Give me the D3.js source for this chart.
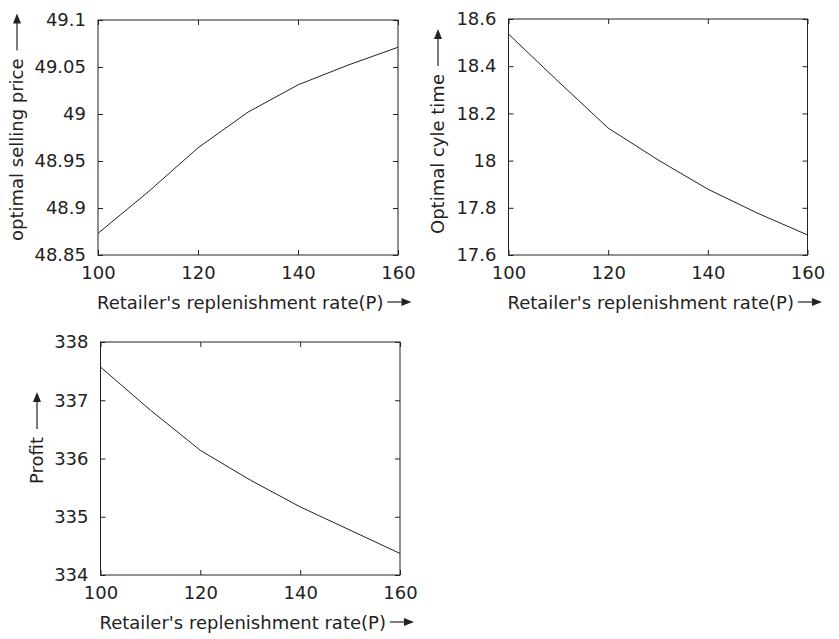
<!DOCTYPE html>
<html>
<head>
<meta charset="utf-8">
<script src="https://cdn.jsdelivr.net/npm/d3@7"></script>
<style>
  html, body { margin: 0; padding: 0; background: #fff; }
  svg { display: block; }
  text { font-family: "DejaVu Sans", Verdana, sans-serif; font-size: 18px; fill: #222; }
</style>
</head>
<body>
<svg id="chart" width="839" height="639"></svg>
<script>
// ---- data ----
const rates = [100, 110, 120, 130, 140, 150, 160];
const sellingPrice = [48.873, 48.917, 48.964, 49.002, 49.031, 49.052, 49.071];
const cycleTime = [18.536, 18.335, 18.138, 18.003, 17.879, 17.777, 17.685];
const profit = [337.57, 336.83, 336.14, 335.63, 335.17, 334.77, 334.37];

const xTicks = [100, 120, 140, 160];
const priceTicks = [48.85, 48.9, 48.95, 49, 49.05, 49.1];
const cycleTicks = [17.6, 17.8, 18, 18.2, 18.4, 18.6];
const profitTicks = [334, 335, 336, 337, 338];

const xLabel = "Retailer's replenishment rate(P)";
const priceLabel = "optimal selling price";
const cycleLabel = "Optimal cyle time";
const profitLabel = "Profit";

// ---- layout ----
const panels = [
  { box: {l: 98, r: 398, t: 20, b: 255}, values: sellingPrice, yDomain: [48.85, 49.1], yTicks: priceTicks,
    yLabel: priceLabel, yLabelX: 23, labelStart: 241, tickFmt: d => String(+d.toFixed(2)) },
  { box: {l: 508.5, r: 807.5, t: 19, b: 255}, values: cycleTime, yDomain: [17.6, 18.6], yTicks: cycleTicks,
    yLabel: cycleLabel, yLabelX: 444, labelStart: 234, tickFmt: d => String(+d.toFixed(1)) },
  { box: {l: 100.5, r: 400, t: 342, b: 575}, values: profit, yDomain: [334, 338], yTicks: profitTicks,
    yLabel: profitLabel, yLabelX: 43, labelStart: 484, tickFmt: d => String(d) }
];

const svg = d3.select("#chart");
const ink = "#222";

function upArrow(g, x, tail) {
  const lineLen = 27, head = 10, hw = 4;
  const tip = tail - lineLen - head;
  g.append("line").attr("x1", x).attr("x2", x).attr("y1", tail).attr("y2", tip + head - 1)
    .attr("stroke", ink).attr("stroke-width", 1.2);
  g.append("path").attr("d", `M${x},${tip} L${x - hw},${tip + head} L${x + hw},${tip + head} Z`).attr("fill", ink);
}
function rightArrow(g, xStart, y) {
  const lineLen = 14, head = 10, hw = 4;
  g.append("line").attr("x1", xStart).attr("x2", xStart + lineLen).attr("y1", y).attr("y2", y)
    .attr("stroke", ink).attr("stroke-width", 1.2);
  const tip = xStart + lineLen + head;
  g.append("path").attr("d", `M${tip},${y} L${tip - head},${y - hw} L${tip - head},${y + hw} Z`).attr("fill", ink);
}

panels.forEach(p => {
  const {l, r, t, b} = p.box;
  const x = d3.scaleLinear().domain([100, 160]).range([l, r]);
  const y = d3.scaleLinear().domain(p.yDomain).range([b, t]);
  const g = svg.append("g");

  g.append("rect").attr("x", l).attr("y", t).attr("width", r - l).attr("height", b - t)
    .attr("fill", "none").attr("stroke", ink).attr("stroke-width", 1);

  const axB = g.append("g").attr("transform", `translate(0,${b})`)
    .call(d3.axisBottom(x).tickValues(xTicks).tickSizeInner(-5).tickSizeOuter(0).tickPadding(12));
  const axT = g.append("g").attr("transform", `translate(0,${t})`)
    .call(d3.axisTop(x).tickValues(xTicks).tickSizeInner(-5).tickSizeOuter(0).tickFormat(""));
  const axL = g.append("g").attr("transform", `translate(${l},0)`)
    .call(d3.axisLeft(y).tickValues(p.yTicks).tickSizeInner(-5).tickSizeOuter(0).tickPadding(12).tickFormat(p.tickFmt));
  const axR = g.append("g").attr("transform", `translate(${r},0)`)
    .call(d3.axisRight(y).tickValues(p.yTicks).tickSizeInner(-5).tickSizeOuter(0).tickFormat(""));
  [axB, axT, axL, axR].forEach(a => {
    a.select(".domain").remove();
    a.selectAll("line").attr("stroke", ink);
    a.selectAll("text").attr("font-size", null).attr("font-family", null).attr("fill", ink);
  });
  axB.selectAll("text").attr("dy", null).attr("y", 24);

  const line = d3.line().x((d, i) => x(rates[i])).y(d => y(d));
  g.append("path").datum(p.values).attr("d", line).attr("fill", "none")
    .attr("stroke", ink).attr("stroke-width", 1);

  const xl = g.append("text").attr("x", l - 1).attr("y", b + 54).text(xLabel);
  const w = xl.node().getComputedTextLength();
  rightArrow(g, l - 1 + w + 4, b + 47);

  const yl = g.append("text").text(p.yLabel)
    .attr("transform", `translate(${p.yLabelX},${p.labelStart}) rotate(-90)`);
  const h = yl.node().getComputedTextLength();
  upArrow(g, p.yLabelX - 6, p.labelStart - h - 8);
});
</script>
</body>
</html>
